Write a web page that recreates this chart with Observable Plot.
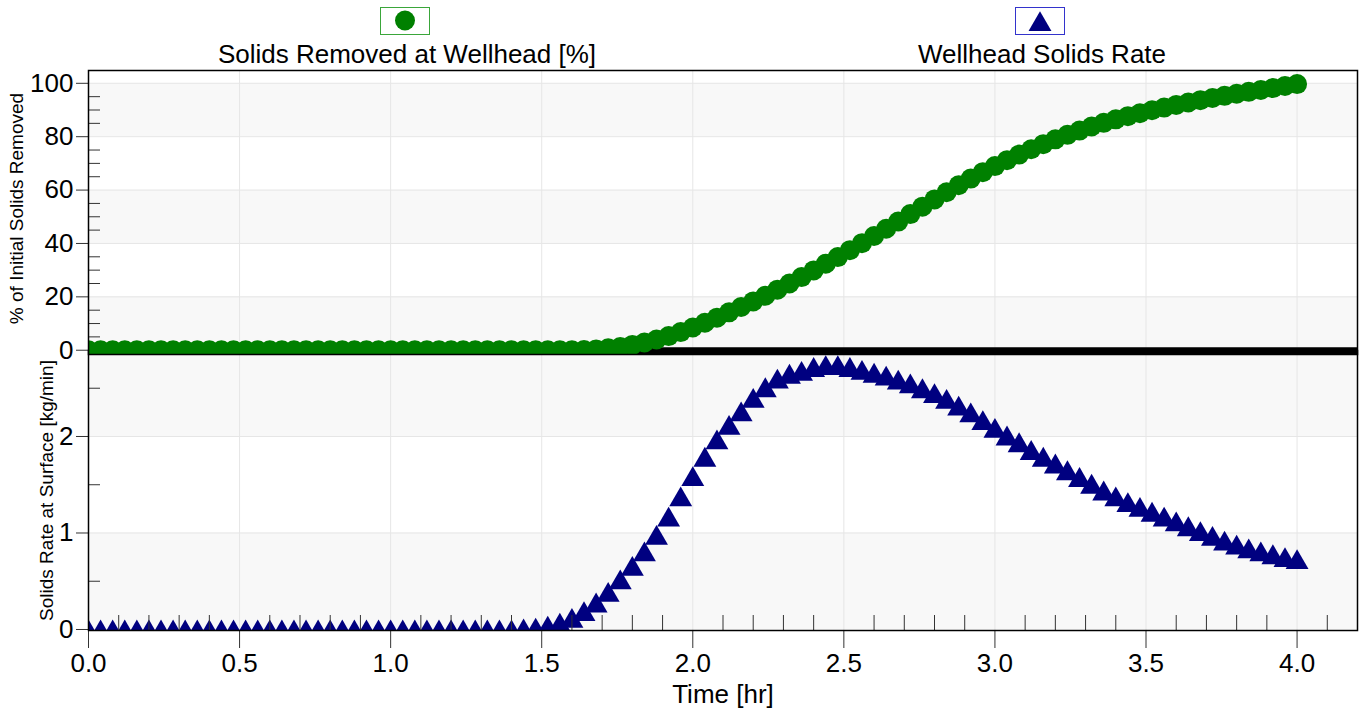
<!DOCTYPE html>
<html>
<head>
<meta charset="utf-8">
<script src="https://cdn.jsdelivr.net/npm/d3@7"></script>
<script src="https://cdn.jsdelivr.net/npm/@observablehq/plot@0.6"></script>
<style>
html, body { margin: 0; padding: 0; background: #fff; }
#chart { position: relative; width: 1360px; height: 713px; overflow: hidden; background: #fff;
  font-family: "Liberation Sans", Arial, sans-serif; }
#chart > svg { position: absolute; left: 0; }
</style>
</head>
<body>
<div id="chart"></div>
<script>
// ---------------- data ----------------
const time = [
  0, 0.04, 0.08, 0.12, 0.16, 0.2, 0.24, 0.28, 0.32, 0.36, 0.4, 0.44, 0.48, 0.52, 0.56, 0.6, 0.64, 0.68, 0.72, 0.76, 0.8, 0.84, 0.88, 0.92, 0.96,
  1.0, 1.04, 1.08, 1.12, 1.16, 1.2, 1.24, 1.28, 1.32, 1.36, 1.4, 1.44, 1.48, 1.52, 1.56, 1.6, 1.64, 1.68, 1.72, 1.76, 1.8, 1.84, 1.88, 1.92, 1.96,
  2.0, 2.04, 2.08, 2.12, 2.16, 2.2, 2.24, 2.28, 2.32, 2.36, 2.4, 2.44, 2.48, 2.52, 2.56, 2.6, 2.64, 2.68, 2.72, 2.76, 2.8, 2.84, 2.88, 2.92, 2.96,
  3.0, 3.04, 3.08, 3.12, 3.16, 3.2, 3.24, 3.28, 3.32, 3.36, 3.4, 3.44, 3.48, 3.52, 3.56, 3.6, 3.64, 3.68, 3.72, 3.76, 3.8, 3.84, 3.88, 3.92, 3.96,
  4.0
];
// % of initial solids removed (one value per time)
const removedPct = [
  0, 0, 0, 0, 0, 0, 0, 0, 0, 0,
  0, 0, 0, 0, 0, 0, 0, 0, 0, 0,
  0, 0, 0, 0, 0, 0, 0, 0, 0, 0,
  0, 0, 0, 0, 0, 0, 0, 0, 0, 0,
  0,
  0.1, 0.3, 0.7, 1.2, 2.0,
  2.9, 4.0, 5.3, 6.8, 8.5,
  10.3, 12.2, 14.2, 16.2, 18.3,
  20.4, 22.7, 25.0, 27.4, 29.9,
  32.4, 34.9, 37.5, 40.1, 42.8,
  45.5, 48.2, 51.0, 53.8, 56.5,
  59.2, 61.8, 64.3, 66.7, 69.0,
  71.2, 73.3, 75.3, 77.2, 79.0,
  80.7, 82.3, 83.8, 85.2, 86.5,
  87.7, 88.8, 89.9, 90.9, 91.9,
  92.8, 93.7, 94.5, 95.3, 96.1,
  96.8, 97.5, 98.2, 99.0, 99.7
];
// wellhead solids rate, kg/min (one value per time)
const solidsRate = [
  0, 0, 0, 0, 0, 0, 0, 0, 0, 0,
  0, 0, 0, 0, 0, 0, 0, 0, 0, 0,
  0, 0, 0, 0, 0, 0, 0, 0, 0, 0,
  0, 0, 0, 0, 0, 0,
  0.01, 0.02, 0.04, 0.07, 0.12,
  0.19, 0.28, 0.39, 0.52, 0.66,
  0.81, 0.98, 1.17, 1.38, 1.59,
  1.79, 1.97, 2.12, 2.26, 2.40,
  2.51, 2.60, 2.65, 2.68, 2.72,
  2.74, 2.74, 2.72, 2.69, 2.66,
  2.63, 2.59, 2.55, 2.50, 2.45,
  2.39, 2.32, 2.25, 2.17, 2.09,
  2.01, 1.94, 1.86, 1.79, 1.72,
  1.65, 1.58, 1.51, 1.44, 1.38,
  1.32, 1.27, 1.22, 1.17, 1.12,
  1.07, 1.02, 0.97, 0.92, 0.88,
  0.84, 0.81, 0.78, 0.75, 0.73
];
const seriesNames = ["Solids Removed at Wellhead [%]", "Wellhead Solids Rate"];
const yTitles = ["% of Initial Solids Removed", "Solids Rate at Surface [kg/min]"];
const xTitle = "Time [hr]";
const xTicks = [0, 0.5, 1.0, 1.5, 2.0, 2.5, 3.0, 3.5, 4.0];
const xMinorTicks = [0.1, 0.2, 0.3, 0.4, 0.6, 0.7, 0.8, 0.9, 1.1, 1.2, 1.3, 1.4, 1.6, 1.7, 1.8, 1.9,
  2.1, 2.2, 2.3, 2.4, 2.6, 2.7, 2.8, 2.9, 3.1, 3.2, 3.3, 3.4, 3.6, 3.7, 3.8, 3.9, 4.1];
const pctTicks = [0, 20, 40, 60, 80, 100];
const pctMinorTicks = [5, 10, 15, 25, 30, 35, 45, 50, 55, 65, 70, 75, 85, 90, 95];
const rateTicks = [0, 1, 2];
const rateMinorTicks = [0.5, 1.5, 2.5];
const pctBands = [[0, 20], [40, 60], [80, 100]];
const rateBands = [[0, 1], [2, 3]];

// ---------------- styling ----------------
const FONT = '"Liberation Sans", Arial, sans-serif';
const GREEN = "#008000", NAVY = "#000080";
const BAND = "#f8f8f8", GRID = "#e6e6e6";
const W = 1360, ML = 88, MR = 3;
const xDomain = [0, 4.2];

const pctData = time.map((t, i) => ({t, v: removedPct[i]}));
const rateData = time.map((t, i) => ({t, v: solidsRate[i]}));

const chart = document.getElementById("chart");

// ---------- bottom panel: solids rate ----------
const bottomPlot = Plot.plot({
  width: W, height: 363,
  marginTop: 0, marginBottom: 83, marginLeft: ML, marginRight: MR,
  style: {background: "transparent", overflow: "visible", fontFamily: FONT, color: "black"},
  x: {domain: xDomain, label: null},
  y: {domain: [-0.0104, 2.891], label: null},
  marks: [
    Plot.rect(rateBands, {y1: d => d[0], y2: d => d[1], fill: BAND, clip: true}),
    Plot.ruleX(xTicks.filter(d => d > 0), {stroke: GRID}),
    Plot.ruleY(rateTicks.filter(d => d > 0), {stroke: GRID}),
    Plot.dot(rateData, {x: "t", y: "v", symbol: "triangle", r: 8.5, dy: 3.3, fill: NAVY, clip: true}),
    Plot.axisX(xTicks, {anchor: "bottom", tickSize: 18, tickPadding: 5, fontSize: 26,
      tickFormat: d3.format(".1f"), stroke: "#333", fill: "black", label: null}),
    Plot.axisX(xMinorTicks, {anchor: "bottom", tickSize: -15, stroke: "#333", fill: "none", label: null}),
    Plot.axisY(rateTicks, {anchor: "left", tickSize: 12, tickPadding: 3, fontSize: 26,
      tickFormat: d => String(d), stroke: "#333", fill: "black", label: null}),
    Plot.axisY(rateMinorTicks, {anchor: "left", tickSize: -12, stroke: "#333", fill: "none", label: null}),
    Plot.frame({stroke: "black", strokeWidth: 1.5}),
    Plot.text([xTitle], {text: d => d, frameAnchor: "bottom", dy: 72, fontSize: 26, fill: "black"}),
    Plot.text([yTitles[1]], {text: d => d, frameAnchor: "left", textAnchor: "middle", dx: -42, rotate: -90, fontSize: 19, fill: "black"})
  ]
});
bottomPlot.style.top = "350px";
chart.appendChild(bottomPlot);

// ---------- top panel: % removed ----------
const topPlot = Plot.plot({
  width: W, height: 354,
  marginTop: 70, marginBottom: 0, marginLeft: ML, marginRight: MR,
  style: {background: "transparent", overflow: "visible", fontFamily: FONT, color: "black"},
  x: {domain: xDomain, axis: null, label: null},
  y: {domain: [-1.6, 104.8], label: null},
  marks: [
    Plot.rect(pctBands, {y1: d => d[0], y2: d => d[1], fill: BAND}),
    Plot.ruleX(xTicks.filter(d => d > 0), {stroke: GRID}),
    Plot.ruleY(pctTicks.filter(d => d > 0), {stroke: GRID}),
    Plot.ruleY([0], {stroke: "black", strokeWidth: 7, dy: 0.5}),
    Plot.dot(pctData, {x: "t", y: "v", r: 10, fill: GREEN, clip: true}),
    Plot.axisY(pctTicks, {anchor: "left", tickSize: 12, tickPadding: 3, fontSize: 26,
      tickFormat: d => String(d), stroke: "#333", fill: "black", label: null}),
    Plot.axisY(pctMinorTicks, {anchor: "left", tickSize: -12, stroke: "#333", fill: "none", label: null}),
    Plot.frame({stroke: "black", strokeWidth: 1.5}),
    Plot.text([yTitles[0]], {text: d => d, frameAnchor: "left", textAnchor: "middle", dx: -72, dy: -4, rotate: -90, fontSize: 19, fill: "black"})
  ]
});
topPlot.style.top = "0px";
chart.appendChild(topPlot);

// ---------- legend ----------
const legend = d3.create("svg")
  .attr("width", W).attr("height", 70)
  .style("top", "0px")
  .style("font-family", FONT);
const items = [
  {name: seriesNames[0], cx: 405, symbol: d3.symbolCircle, color: GREEN, box: "#3aa63a"},
  {name: seriesNames[1], cx: 1040, symbol: d3.symbolTriangle, color: NAVY, box: "#3333cc"}
];
for (const it of items) {
  legend.append("rect")
    .attr("x", it.cx - 24.5).attr("y", 7.5).attr("width", 49).attr("height", 27)
    .attr("fill", "white").attr("stroke", it.box).attr("stroke-width", 1);
  const size = it.symbol === d3.symbolCircle ? Math.PI * 100 : 8.5 * 8.5 * Math.PI;
  legend.append("path")
    .attr("d", d3.symbol(it.symbol, size)())
    .attr("transform", `translate(${it.cx},${it.symbol === d3.symbolCircle ? 20.5 : 24.5})`)
    .attr("fill", it.color);
  legend.append("text")
    .attr("x", it.cx + 2).attr("y", 63)
    .attr("text-anchor", "middle")
    .attr("font-size", 26)
    .attr("fill", "black")
    .text(it.name);
}
chart.appendChild(legend.node());
</script>
</body>
</html>
